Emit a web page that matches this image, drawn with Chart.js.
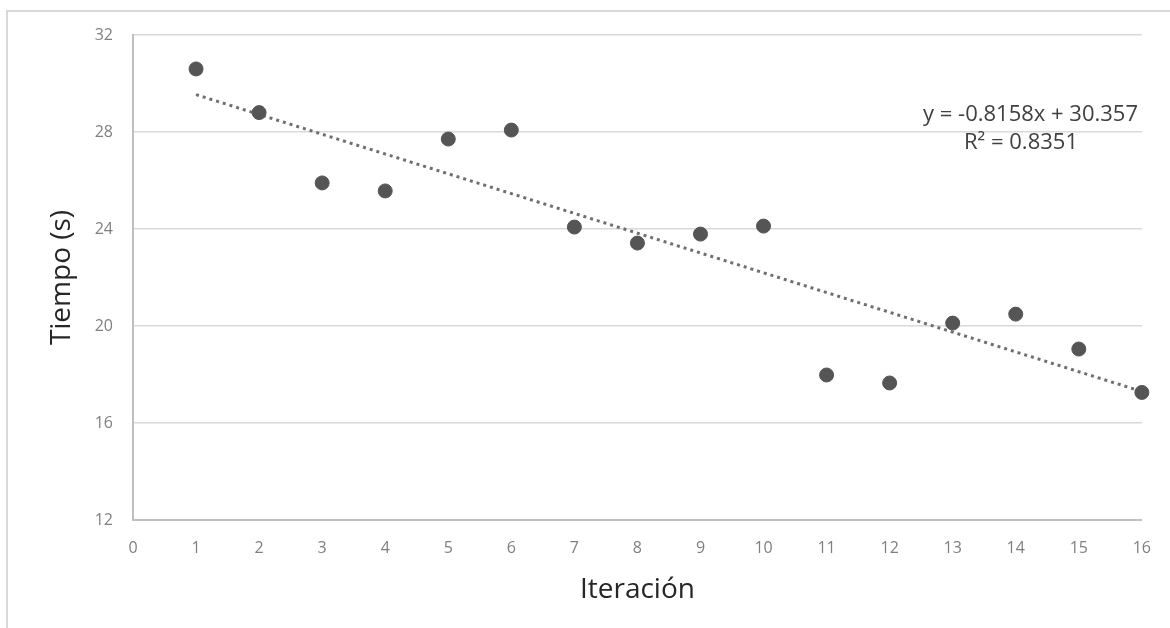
<!DOCTYPE html>
<html>
<head>
<meta charset="utf-8">
<script src="https://cdn.jsdelivr.net/npm/chart.js@4/dist/chart.umd.min.js"></script>
<style>
  html, body { margin: 0; padding: 0; background: #ffffff; }
  #wrap { position: relative; width: 1170px; height: 628px; overflow: hidden; }
  #frame { position: absolute; left: 6px; top: 10px; width: 1200px; height: 700px;
           border-top: 2px solid #d9d9d9; border-left: 2px solid #d9d9d9; box-sizing: border-box; }
  canvas { position: absolute; left: 0; top: 0; }
</style>
</head>
<body>
<div id="wrap">
  <div id="frame"></div>
  <canvas id="c" width="1170" height="628"></canvas>
</div>
<script>
// Data
const iterations = [1, 2, 3, 4, 5, 6, 7, 8, 9, 10, 11, 12, 13, 14, 15, 16];
const tiempos    = [30.6, 28.8, 25.9, 25.57, 27.71, 28.08, 24.08, 23.42, 23.79, 24.12, 17.98, 17.65, 20.12, 20.49, 19.05, 17.26];
const trendX = [1, 16];
const trendY = [29.54, 17.30];
const yTicks = [12, 16, 20, 24, 28, 32];
const xTicks = [0, 1, 2, 3, 4, 5, 6, 7, 8, 9, 10, 11, 12, 13, 14, 15, 16];
const equationText = 'y = -0.8158x + 30.357';
const r2Text = 'R² = 0.8351';
const xTitle = 'Iteración';
const yTitle = 'Tiempo (s)';

const FONT = "'Open Sans', 'Liberation Sans', sans-serif";

const points = iterations.map((x, i) => ({ x: x, y: tiempos[i] }));
const trend = trendX.map((x, i) => ({ x: x, y: trendY[i] }));

const annotationPlugin = {
  id: 'trendLabel',
  afterDatasetsDraw(chart) {
    const ctx = chart.ctx;
    ctx.save();
    ctx.fillStyle = '#404040';
    ctx.font = '22px ' + FONT;
    ctx.textBaseline = 'middle';
    ctx.textAlign = 'right';
    ctx.fillText(equationText, 1138, 115);
    ctx.textAlign = 'center';
    ctx.fillText(r2Text, 1021, 143);
    ctx.restore();
  }
};

new Chart(document.getElementById('c'), {
  type: 'scatter',
  data: {
    datasets: [
      {
        label: 'Tiempo',
        data: points,
        backgroundColor: '#555555',
        borderColor: '#555555',
        pointRadius: 7,
        pointHoverRadius: 7,
        clip: false,
        order: 1
      },
      {
        label: 'Tendencia',
        type: 'line',
        data: trend,
        borderColor: '#6f6f6f',
        borderWidth: 3,
        borderDash: [3, 4],
        pointRadius: 0,
        fill: false,
        clip: false,
        order: 2
      }
    ]
  },
  options: {
    responsive: false,
    animation: false,
    events: [],
    layout: { padding: { top: 35, right: 26, bottom: 0, left: 0 } },
    plugins: { legend: { display: false }, tooltip: { enabled: false } },
    scales: {
      x: {
        type: 'linear',
        min: 0, max: 16,
        afterBuildTicks(scale) { scale.ticks = xTicks.map(v => ({ value: v })); },
        afterFit(scale) { scale.height = 108; },
        grid: { display: false, drawTicks: false },
        border: { display: true, color: '#bfbfbf', width: 2 },
        ticks: { color: '#808080', font: { family: FONT, size: 16 }, padding: 19, maxRotation: 0, autoSkip: false },
        title: { display: true, text: xTitle, color: '#262626', font: { family: FONT, size: 28 }, padding: { top: 0, bottom: 21 } }
      },
      y: {
        type: 'linear',
        min: 12, max: 32,
        afterBuildTicks(scale) { scale.ticks = yTicks.map(v => ({ value: v })); },
        afterFit(scale) { scale.width = 133; },
        grid: { color: '#d9d9d9', lineWidth: 1.5, drawTicks: false },
        border: { display: true, color: '#bfbfbf', width: 2 },
        ticks: { color: '#808080', font: { family: FONT, size: 16 }, padding: 20 },
        title: { display: true, text: yTitle, color: '#262626', font: { family: FONT, size: 28 }, padding: { top: 45, bottom: 0 } }
      }
    }
  },
  plugins: [annotationPlugin]
});
</script>
</body>
</html>
